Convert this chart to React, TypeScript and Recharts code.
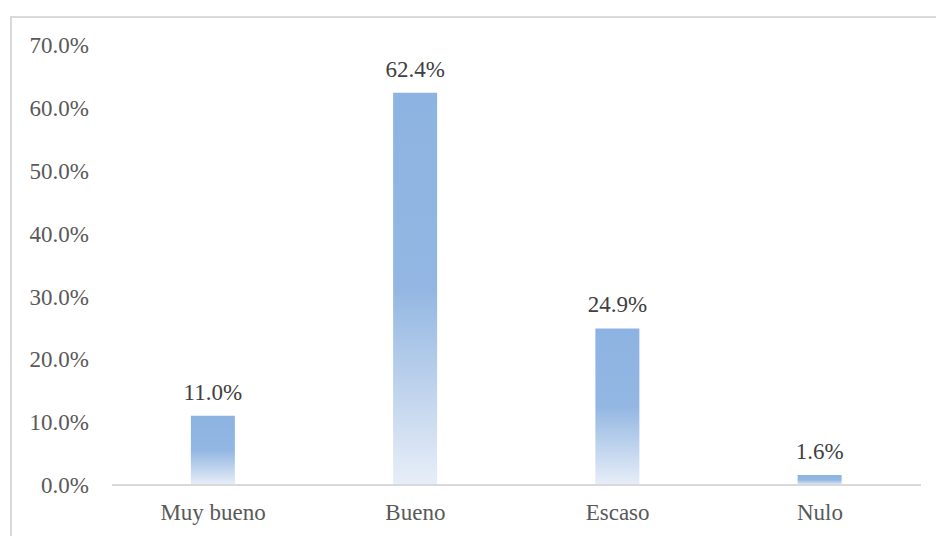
import React from "react";
import { BarChart, Bar, XAxis, YAxis, LabelList } from "recharts";

// Categorías y porcentajes
const categories = ["Muy bueno", "Bueno", "Escaso", "Nulo"];
const percentages = [11.0, 62.4, 24.9, 1.6];
const yTicks = [0, 10, 20, 30, 40, 50, 60, 70];

const data = categories.map((name, i) => ({ name, value: percentages[i] }));

const font = "Liberation Serif, Tinos, Times New Roman, DejaVu Serif, serif";
const textColor = "#595959";

const fmt = (v: number) => `${v.toFixed(1)}%`;

const App = () => {
  return (
    <div
      style={{
        position: "absolute",
        left: 0,
        top: 0,
        width: 936,
        height: 536,
        overflow: "hidden",
        background: "#fff",
        fontFamily: font,
      }}
    >
      {/* marco gris que se sale por la derecha y abajo */}
      <div
        style={{
          position: "absolute",
          left: 10,
          top: 16,
          width: 940,
          height: 540,
          border: "2px solid #d9d9d9",
        }}
      />
      <div style={{ position: "absolute", left: 0, top: 0, fontFamily: font }}>
        <BarChart
          width={936}
          height={536}
          data={data}
          margin={{ top: 45, right: 15, left: 0, bottom: 0 }}
          barCategoryGap="39%"
          style={{ fontFamily: font }}
        >
          <defs>
            <linearGradient id="barFill" x1="0" y1="0" x2="0" y2="1">
              <stop offset="0%" stopColor="#8db3e2" />
              <stop offset="50%" stopColor="#93b7e2" />
              <stop offset="100%" stopColor="#e8eef8" />
            </linearGradient>
          </defs>
          <XAxis
            dataKey="name"
            height={51}
            tickLine={false}
            axisLine={{ stroke: "#d9d9d9", strokeWidth: 2 }}
            tickMargin={13}
            tick={{ fill: textColor, fontFamily: font, fontSize: 23 }}
          />
          <YAxis
            width={112}
            domain={[0, 70]}
            ticks={yTicks}
            tickFormatter={fmt}
            tickLine={false}
            axisLine={false}
            tickMargin={17}
            tick={{ fill: textColor, fontFamily: font, fontSize: 23 }}
          />
          <Bar dataKey="value" fill="url(#barFill)" isAnimationActive={false}>
            <LabelList
              dataKey="value"
              position="top"
              offset={16}
              formatter={(v: any) => fmt(Number(v))}
              fontFamily={font}
              style={{ fill: "#404040", fontFamily: font, fontSize: 23 }}
            />
          </Bar>
        </BarChart>
      </div>
    </div>
  );
};

export default App;
